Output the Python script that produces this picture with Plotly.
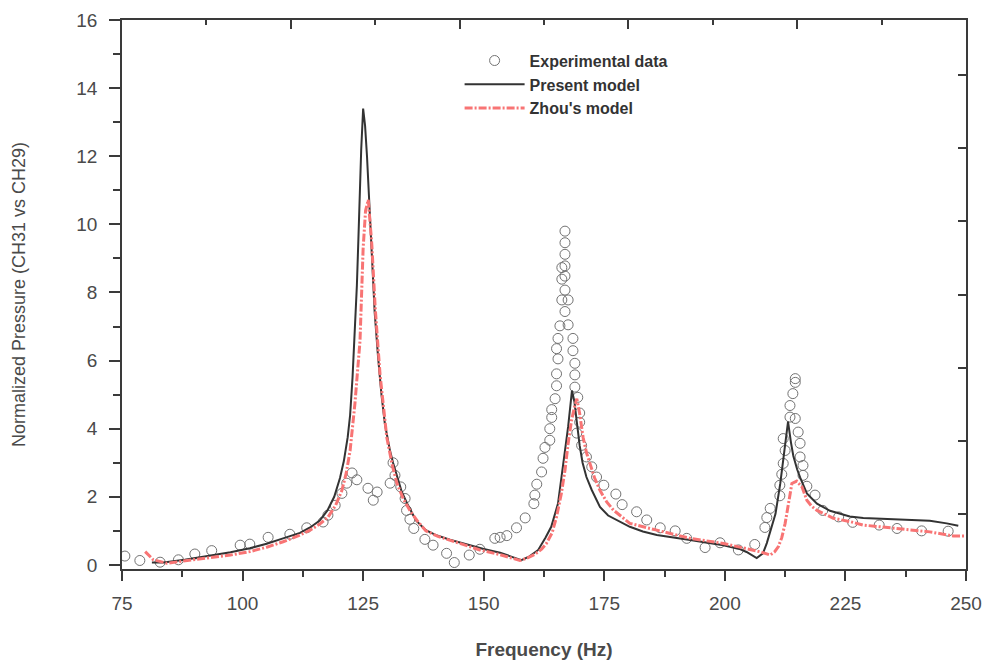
import plotly.graph_objects as go

# Experimental data (open circles)
exp_freq = [75.6, 78.7, 82.9, 86.7, 90.1, 93.6, 99.5, 101.5, 105.3, 109.8, 113.3, 116.7,
            117.7, 119.2, 120.6, 121.6, 122.7, 123.7, 126.0, 127.1, 127.9, 130.6, 131.2,
            131.6, 132.8, 133.7, 134.0, 134.7, 135.5, 137.8, 139.5, 142.3, 143.9, 147.0,
            149.2, 152.3, 153.4, 154.8, 156.8, 158.6, 160.4, 160.6, 161.0, 162.0, 162.3,
            162.7, 163.7, 163.7, 164.1, 164.1, 164.8, 165.1, 165.1, 165.4, 165.1, 165.4,
            165.8, 166.2, 166.85, 166.2, 166.85, 166.2, 166.85, 166.85, 166.85, 166.85,
            166.85, 167.5, 167.5, 168.5, 168.5, 168.9, 168.9, 168.9, 169.5, 169.9, 169.9,
            169.3, 170.3, 171.3, 172.4, 173.4, 174.9, 177.4, 178.7, 181.7, 183.8, 186.6,
            189.7, 192.1, 195.9, 199.0, 202.8, 206.2, 208.3, 208.7, 209.4, 211.4, 211.4,
            211.8, 212.1, 212.5, 212.1, 213.5, 213.5, 214.1, 214.6, 214.6, 214.6, 215.2,
            215.6, 215.6, 216.2, 216.2, 217.0, 218.7, 220.3, 223.6, 226.5, 232.0, 235.7,
            240.8, 246.3]
exp_pressure = [0.26, 0.13, 0.08, 0.15, 0.32, 0.42, 0.58, 0.61, 0.81, 0.90, 1.09, 1.26,
                1.46, 1.75, 2.10, 2.40, 2.70, 2.50, 2.25, 1.90, 2.14, 2.40, 3.00,
                2.63, 2.29, 1.95, 1.60, 1.34, 1.07, 0.75, 0.58, 0.34, 0.07, 0.29,
                0.46, 0.78, 0.81, 0.86, 1.09, 1.38, 1.80, 2.05, 2.37, 2.73, 3.13,
                3.45, 3.66, 4.00, 4.33, 4.56, 4.88, 5.26, 5.61, 6.05, 6.35, 6.65,
                7.02, 7.78, 7.44, 8.39, 8.07, 8.73, 8.48, 8.78, 9.12, 9.46,
                9.80, 7.78, 7.05, 6.65, 6.29, 5.92, 5.58, 5.22, 4.92, 4.46, 4.19,
                3.87, 3.51, 3.17, 2.88, 2.58, 2.34, 2.08, 1.77, 1.56, 1.32, 1.09,
                1.00, 0.78, 0.51, 0.65, 0.44, 0.60, 1.10, 1.39, 1.66, 2.03, 2.34,
                2.66, 2.98, 3.36, 3.71, 4.34, 4.68, 5.03, 5.36, 5.47, 4.30, 3.90,
                3.57, 3.17, 2.92, 2.63, 2.31, 2.05, 1.60, 1.41, 1.25, 1.17, 1.07,
                1.00, 0.99]

# Present model (black solid line)
present_freq = [81.2, 83.6, 88.0, 93.2, 97.5, 101.5, 105.0, 108.4, 111.9, 114.0, 116.0,
                117.6, 119.0, 120.2, 121.0, 121.8, 122.3, 122.8, 123.3, 123.7, 124.0,
                124.3, 124.6, 125.0, 125.4, 125.8, 126.2, 126.8, 127.4, 128.1, 128.8, 129.5,
                130.5, 131.2, 132.0, 133.0, 134.3, 136.0, 138.0, 140.0, 143.0, 146.5,
                150.0, 153.4, 156.0, 157.8, 159.5, 161.3, 162.8, 164.0, 165.4, 166.5,
                167.5, 168.3, 168.8, 169.3, 169.9, 170.5, 171.3, 172.4, 174.1, 175.8,
                177.6, 180.3, 183.0, 185.9, 192.8, 199.7, 203.0, 204.5, 206.6, 207.9,
                208.7, 209.6, 210.5, 211.5, 212.3, 213.1, 213.7, 214.2, 215.0, 215.6,
                217.0, 219.1, 221.8, 225.9, 228.7, 235.6, 242.5, 246.0, 248.4]
present_pressure = [0.07, 0.07, 0.15, 0.26, 0.37, 0.49, 0.62, 0.78, 0.94, 1.10, 1.30,
                    1.60, 2.00, 2.55, 3.05, 3.75, 4.40, 5.50, 6.90, 8.20, 9.50,
                    10.9, 12.2, 13.4, 12.9, 12.0, 10.9, 9.00, 7.40, 6.10, 5.00, 4.15,
                    3.40, 3.00, 2.60, 2.15, 1.75, 1.30, 1.02, 0.88, 0.74, 0.60,
                    0.47, 0.36, 0.22, 0.14, 0.25, 0.44, 0.80, 1.12, 1.80, 2.97,
                    4.05, 5.12, 4.80, 4.20, 3.50, 3.00, 2.58, 2.20, 1.70, 1.45,
                    1.32, 1.12, 0.98, 0.88, 0.73, 0.58, 0.47, 0.38, 0.20, 0.34,
                    0.64, 1.05, 1.50, 2.40, 3.30, 4.21, 3.60, 3.20, 2.80, 2.57,
                    2.10, 1.80, 1.59, 1.42, 1.38, 1.34, 1.30, 1.22, 1.15]

# Zhou's model (red dash-dot line)
zhou_freq = [79.8, 81.5, 84.3, 88.5, 93.2, 97.5, 101.5, 105.0, 108.4, 111.5, 114.0, 116.0,
             117.7, 119.3, 120.6, 121.5, 122.3, 123.3, 124.35, 124.7, 125.0, 125.5, 126.07,
             126.8, 127.5, 128.5, 129.2, 129.9, 131.0, 132.0, 133.3, 134.7, 136.3, 138.0,
             140.5, 143.0, 146.0, 149.2, 153.4, 155.8, 157.5, 159.0, 160.5, 162.0, 163.0,
             164.2, 165.1, 166.1, 166.85, 167.5, 168.2, 168.8, 169.3, 169.9, 170.6, 171.3,
             172.0, 173.0, 174.1, 175.5, 176.9, 180.3, 185.9, 192.8, 199.7, 204.5, 207.5,
             209.4, 210.3, 211.1, 211.8, 212.5, 213.2, 213.9, 214.9, 216.0, 217.0, 218.0,
             219.1, 222.5, 226.0, 228.7, 235.6, 242.5, 247.4, 250.0]
zhou_pressure = [0.39, 0.15, 0.05, 0.12, 0.20, 0.29, 0.39, 0.52, 0.68, 0.85, 1.02, 1.20,
                 1.40, 1.75, 2.19, 2.70, 3.36, 4.74, 6.58, 7.90, 9.30, 10.4, 10.72,
                 9.40, 7.55, 5.60, 4.60, 3.75, 2.95, 2.40, 1.95, 1.60, 1.28, 1.00,
                 0.84, 0.73, 0.58, 0.44, 0.30, 0.20, 0.13, 0.20, 0.30, 0.46, 0.63,
                 0.95, 1.41, 2.10, 2.78, 3.56, 4.24, 4.62, 4.88, 4.44, 3.75, 3.30,
                 2.97, 2.55, 2.19, 1.85, 1.61, 1.22, 1.02, 0.78, 0.63, 0.49, 0.38,
                 0.29, 0.38, 0.54, 0.80, 1.22, 1.80, 2.39, 2.46, 2.29, 1.90, 1.72,
                 1.60, 1.37, 1.27, 1.17, 1.07, 0.97, 0.85, 0.85]

x_ticks = [75, 100, 125, 150, 175, 200, 225, 250]
y_ticks = [0, 2, 4, 6, 8, 10, 12, 14, 16]

AX = "#3a3a3a"
TXT = "#4a4a4a"

fig = go.Figure()
fig.add_trace(go.Scatter(
    x=exp_freq, y=exp_pressure, mode="markers", name="Experimental data",
    marker=dict(symbol="circle-open", size=10, color="#727272", line=dict(width=1, color="#727272")),
))
fig.add_trace(go.Scatter(
    x=present_freq, y=present_pressure, mode="lines", name="Present model",
    line=dict(color="#333333", width=2),
))
fig.add_trace(go.Scatter(
    x=zhou_freq, y=zhou_pressure, mode="lines", name="Zhou's model",
    line=dict(color="#f87474", width=3, dash="8px,2px,2px,2px"),
))
# anchor trace for the mirrored (top/right) frame axes
fig.add_trace(go.Scatter(x=[None], y=[None], xaxis="x2", yaxis="y2",
                         showlegend=False, hoverinfo="skip"))

fig.update_layout(
    width=992, height=663,
    margin=dict(l=122, r=26, t=20, b=94),
    paper_bgcolor="white", plot_bgcolor="white",
    font=dict(family="Liberation Sans, Arial, sans-serif", color=TXT),
    showlegend=True,
    legend=dict(
        x=0.400, y=0.957, xanchor="left", yanchor="top",
        bgcolor="rgba(0,0,0,0)", borderwidth=0,
        font=dict(size=16, color="#333333", weight="bold"),
        itemwidth=60, tracegroupgap=0,
    ),
    xaxis=dict(
        range=[75, 250], tickvals=x_ticks, ticktext=[str(v) for v in x_ticks],
        ticks="outside", ticklen=10, tickwidth=1.5, tickcolor=AX,
        minor=dict(dtick=12.5, tick0=75, ticks="outside", ticklen=6, tickwidth=1.5, tickcolor=AX),
        showline=True, linecolor=AX, linewidth=1.5, showgrid=False, zeroline=False,
        tickfont=dict(size=19, color=TXT), ticklabelstandoff=6,
        title=dict(text="Frequency (Hz)", font=dict(size=19, color=TXT, weight="bold"), standoff=30),
        automargin=False,
    ),
    yaxis=dict(
        range=[-0.12, 16], tickvals=y_ticks, ticktext=[str(v) for v in y_ticks],
        ticks="outside", ticklen=11, tickwidth=1.5, tickcolor=AX,
        minor=dict(dtick=1, tick0=0, ticks="outside", ticklen=7, tickwidth=1.5, tickcolor=AX),
        showline=True, linecolor=AX, linewidth=1.5, showgrid=False, zeroline=False,
        tickfont=dict(size=19, color=TXT), ticklabelstandoff=8,
        title=dict(text="Normalized Pressure (CH31 vs CH29)", font=dict(size=18, color=TXT), standoff=46),
        automargin=False,
    ),
    xaxis2=dict(
        overlaying="x", side="top", anchor="y", range=[0, 10], dtick=2, tick0=0,
        ticks="inside", ticklen=9, tickwidth=1.5, tickcolor=AX,
        minor=dict(dtick=1, ticks="inside", ticklen=5, tickwidth=1.5, tickcolor=AX),
        showticklabels=False, showline=True, linecolor=AX, linewidth=1.5,
        showgrid=False, zeroline=False,
    ),
    yaxis2=dict(
        overlaying="y", side="right", anchor="x", range=[0, 7.5], dtick=1, tick0=0.75,
        ticks="inside", ticklen=8, tickwidth=1.5, tickcolor=AX,
        showticklabels=False, showline=True, linecolor=AX, linewidth=1.5,
        showgrid=False, zeroline=False,
    ),
)

fig.write_html(
    "out.html",
    config={"displayModeBar": False},
    post_script="document.body.style.margin='0';document.body.style.overflow='hidden';",
)
